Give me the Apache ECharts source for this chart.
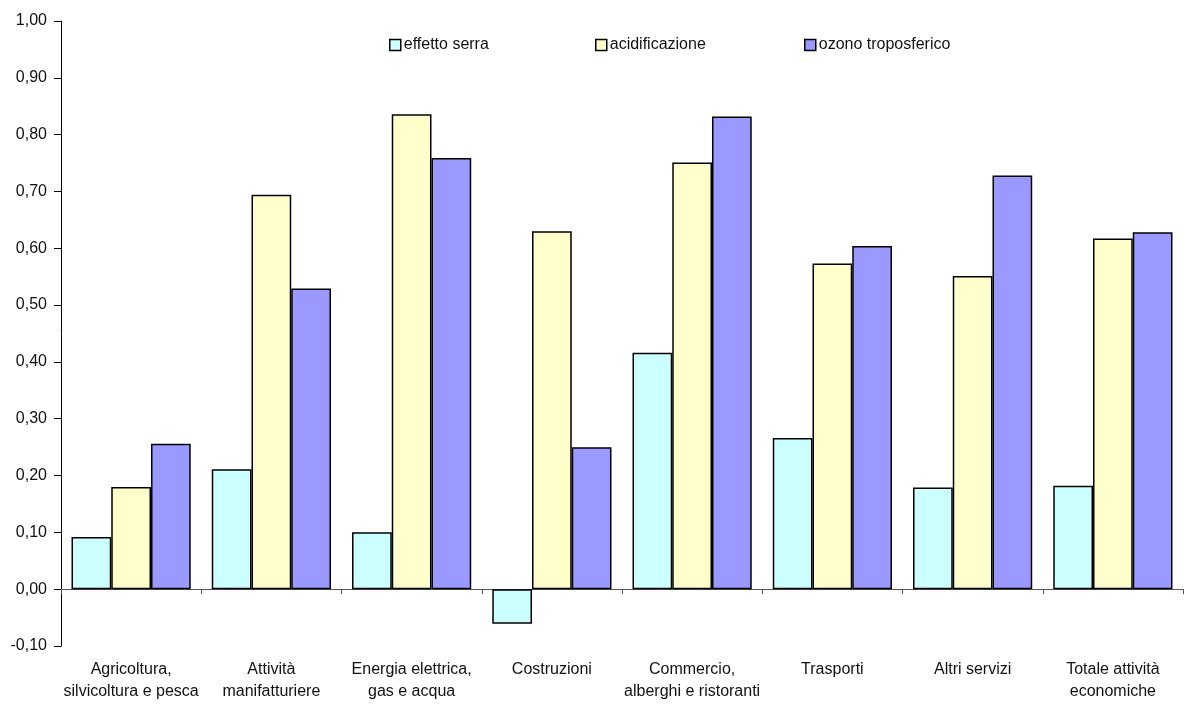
<!DOCTYPE html>
<html>
<head>
<meta charset="utf-8">
<title>Indicatori per attività economica</title>
<script src="https://cdn.jsdelivr.net/npm/echarts@6/dist/echarts.min.js"></script>
<style>
  html, body { margin: 0; padding: 0; background: #fff; }
  #chart { width: 1185px; height: 706px; }
</style>
</head>
<body>
<div id="chart"></div>
<script>
// Settori di attività economica (asse delle categorie)
const categories = [
  'Agricoltura,\nsilvicoltura e pesca',
  'Attività\nmanifatturiere',
  'Energia elettrica,\ngas e acqua',
  'Costruzioni',
  'Commercio,\nalberghi e ristoranti',
  'Trasporti',
  'Altri servizi',
  'Totale attività\neconomiche'
];

const seriesNames = ['effetto serra', 'acidificazione', 'ozono troposferico'];

const effettoSerra      = [0.092, 0.211, 0.100, -0.061, 0.416, 0.266, 0.179, 0.182];
const acidificazione    = [0.180, 0.694, 0.836, 0.630, 0.751, 0.573, 0.551, 0.617];
const ozonoTroposferico = [0.256, 0.529, 0.759, 0.250, 0.832, 0.604, 0.728, 0.628];

const seriesColors = ['#CCFFFF', '#FFFFCC', '#9999FF'];

const fmt = v => v.toFixed(2).replace('.', ',');
const font = 'Liberation Sans, Arial, sans-serif';

const chart = echarts.init(document.getElementById('chart'), null, { renderer: 'canvas' });

// one legend block per series, each placed on its own
const legendLefts = [389, 595, 804];
const legends = seriesNames.map((name, i) => ({
  data: [name],
  left: legendLefts[i],
  top: 37,
  padding: 0,
  orient: 'horizontal',
  itemWidth: 11,
  itemHeight: 11,
  itemGap: 0,
  icon: 'rect',
  selectedMode: false,
  textStyle: { fontFamily: font, fontSize: 16, color: '#111', padding: [0, 0, 0, -2] },
  itemStyle: { borderColor: '#000', borderWidth: 1.5 }
}));

const values = [effettoSerra, acidificazione, ozonoTroposferico];

chart.setOption({
  animation: false,
  backgroundColor: '#fff',
  legend: legends,
  grid: { left: 61, right: 2, top: 21, bottom: 60, containLabel: false, outerBoundsMode: 'none' },
  xAxis: [
    {
      // baseline at zero with the category ticks
      type: 'category',
      data: categories,
      axisLine: { onZero: true, lineStyle: { color: '#555', width: 1 } },
      axisTick: { show: true, length: 5, lineStyle: { color: '#555' } },
      axisLabel: { show: false },
      splitLine: { show: false }
    },
    {
      // category names along the bottom edge
      type: 'category',
      data: categories,
      position: 'bottom',
      axisLine: { show: false, onZero: false },
      axisTick: { show: false },
      axisLabel: {
        margin: 13,
        interval: 0,
        fontFamily: font,
        fontSize: 16,
        color: '#111',
        lineHeight: 22
      },
      splitLine: { show: false }
    }
  ],
  yAxis: {
    type: 'value',
    min: -0.1,
    max: 1.0,
    interval: 0.1,
    axisLine: { show: true, lineStyle: { color: '#000', width: 1 } },
    axisTick: { show: true, length: 7, lineStyle: { color: '#000' } },
    axisLabel: {
      formatter: fmt,
      fontFamily: font,
      fontSize: 16,
      color: '#111',
      margin: 14
    },
    splitLine: { show: false }
  },
  series: seriesNames.map((name, i) => ({
    name,
    type: 'bar',
    data: values[i],
    barGap: '0%',
    barCategoryGap: '15%',
    itemStyle: { color: seriesColors[i], borderColor: '#000', borderWidth: 1.5 }
  }))
});
</script>
</body>
</html>
